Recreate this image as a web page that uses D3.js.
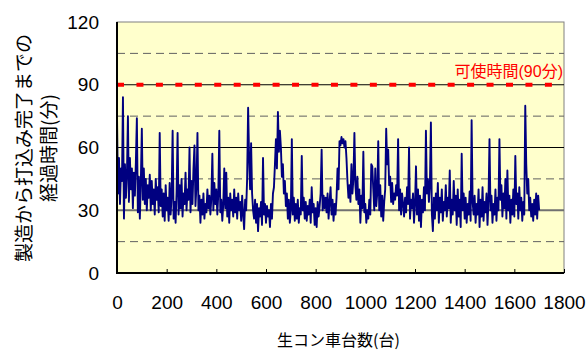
<!DOCTYPE html>
<html>
<head>
<meta charset="utf-8">
<script src="https://cdn.jsdelivr.net/npm/d3@7"></script>
<style>
	body { margin: 0; background: #fff; }
	text { font-family: 'Liberation Sans', Arial, 'Noto Sans CJK JP', sans-serif; }
</style>
</head>
<body>
<div id="chart"></div>
<script>

var step = 4;
var elapsed = [
	75,38,55,33,50,44,84,26,52,36, 47,75,34,55,40,50,31,48,37,53,
	74,29,46,26,44,69,35,50,33,45, 30,42,36,47,30,44,33,40,28,45,
	35,41,29,67,32,40,27,38,25,42, 30,36,25,43,28,37,68,26,34,24,
	39,67,28,42,31,45,27,38,33,48, 30,40,35,60,29,44,33,50,61,32,
	42,67,30,37,24,35,28,38,26,33, 29,40,31,37,28,36,57,30,43,33,
	40,28,38,68,29,35,25,33,50,31, 48,27,36,24,38,30,35,27,40,29,
	36,26,38,30,34,25,37,28,21,35, 30,45,79,55,40,62,38,30,26,35,
	24,33,20,31,27,34,23,55,28,33, 24,32,27,30,22,33,26,38,41,52,
	64,50,77,58,68,60,46,52,38,44, 32,38,26,35,24,30,64,28,36,25,
	33,26,35,24,31,28,56,30,36,26, 34,25,32,28,35,24,41,29,33,23,
	31,22,34,27,32,38,59,30,37,31, 36,29,38,26,34,41,28,35,25,33,
	28,36,50,40,63,61,65,62,64,60, 63,55,44,36,42,34,52,38,45,67,
	42,35,46,33,40,24,37,31,58,29, 33,24,30,26,35,28,52,51,40,30,
	50,32,38,63,30,42,27,37,25,34, 40,69,52,59,42,46,34,43,33,38,
	35,42,37,64,30,40,28,38,33,27, 36,29,41,33,60,26,35,31,38,24,
	33,51,28,40,25,37,22,35,29,41, 30,68,38,45,34,42,72,28,20,36,
	26,38,30,43,24,36,29,40,25,34, 30,42,27,36,31,49,24,35,28,44,
	30,37,23,40,27,35,22,57,30,38, 26,36,24,33,28,39,25,73,34,28,
	37,24,33,28,40,22,35,27,41,25, 34,29,38,23,35,64,30,37,24,33,
	28,40,25,36,30,64,35,42,27,38, 31,45,26,49,30,37,24,35,28,40,
	27,56,33,38,26,41,30,36,25,34, 28,80,52,38,45,30,36,27,33,25,
	35,28,38,26,37,30
];

var xTicks = [0, 200, 400, 600, 800, 1000, 1200, 1400, 1600, 1800];
var yTicks = [0, 30, 60, 90, 120];
var solidGrid = [30, 60, 90];
var dashedGrid = [15, 45, 75, 105];
var potLife = 90;
var potLifeLabel = '可使時間(90分)';
var xTitle = '生コン車台数(台)';
var yTitle = ['製造から打込み完了までの', '経過時間(分)'];

var width = 586, height = 350;
var margin = { left: 117, right: 22, top: 22, bottom: 77 };

var svg = d3.select('#chart').append('svg')
	.attr('width', width)
	.attr('height', height)

var x = d3.scaleLinear()
	.domain([0, 1800])
	.range([margin.left, width - margin.right])

var y = d3.scaleLinear()
	.domain([0, 120])
	.range([height - margin.bottom, margin.top])

// plot area
svg.append('rect')
	.attr('x', x(0))
	.attr('y', y(120))
	.attr('width', x(1800) - x(0))
	.attr('height', y(0) - y(120))
	.attr('fill', '#ffffcc')
	.attr('stroke', '#808080')
	.attr('stroke-width', 1)

svg.selectAll('.grid-dash')
	.data(dashedGrid)
	.enter().append('line')
	.attr('x1', x(0)).attr('x2', x(1800))
	.attr('y1', function (d) { return y(d) })
	.attr('y2', function (d) { return y(d) })
	.attr('stroke', '#606060')
	.attr('stroke-width', 1)
	.attr('stroke-dasharray', '8,5')

svg.selectAll('.grid-solid')
	.data(solidGrid)
	.enter().append('line')
	.attr('x1', x(0)).attr('x2', x(1800))
	.attr('y1', function (d) { return y(d) })
	.attr('y2', function (d) { return y(d) })
	.attr('stroke', function (d) { return d == 30 ? '#707070' : '#000' })
	.attr('stroke-width', function (d) { return d == 30 ? 2 : 1 })

// series
var line = d3.line()
	.x(function (d, i) { return x(i * step) })
	.y(function (d) { return y(d) })

svg.append('path')
	.datum(elapsed)
	.attr('d', line)
	.attr('fill', 'none')
	.attr('stroke', '#000080')
	.attr('stroke-width', 1.9)
	.attr('stroke-linejoin', 'round')

// pot life line
svg.append('line')
	.attr('x1', x(0)).attr('x2', x(1800))
	.attr('y1', y(potLife)).attr('y2', y(potLife))
	.attr('stroke', '#ff0000')
	.attr('stroke-width', 4)
	.attr('stroke-dasharray', '7,12.45')

svg.append('text')
	.attr('x', x(1800) - 1)
	.attr('y', y(potLife) - 8)
	.attr('text-anchor', 'end')
	.attr('fill', '#ff0000')
	.style('font-size', '16px')
	.text(potLifeLabel)

// axes
var xAxis = d3.axisBottom(x)
	.tickValues(xTicks)
	.tickFormat(d3.format('d'))
	.tickSizeInner(-4)
	.tickSizeOuter(0)
	.tickPadding(23)

var xAxisG = svg.append('g')
	.attr('transform', 'translate(0,' + y(0) + ')')
	.call(xAxis)
xAxisG.select('.domain').remove()
xAxisG.selectAll('text')
	.attr('fill', '#000')
	.style('font-size', '19px')
	.style('font-family', "'Liberation Sans', Arial, sans-serif")

var yAxis = d3.axisLeft(y)
	.tickValues(yTicks)
	.tickSize(0)
	.tickPadding(18)

var yAxisG = svg.append('g')
	.attr('transform', 'translate(' + x(0) + ',0)')
	.call(yAxis)
yAxisG.select('.domain').remove()
yAxisG.selectAll('text')
	.attr('fill', '#000')
	.style('font-size', '19px')
	.style('font-family', "'Liberation Sans', Arial, sans-serif")

// left and bottom axis lines
svg.append('line')
	.attr('x1', x(0)).attr('x2', x(0))
	.attr('y1', y(120)).attr('y2', y(0) + 1)
	.attr('stroke', '#000')
	.attr('stroke-width', 2)

svg.append('line')
	.attr('x1', x(0) - 1).attr('x2', x(1800))
	.attr('y1', y(0)).attr('y2', y(0))
	.attr('stroke', '#000')
	.attr('stroke-width', 2)

// titles
svg.append('text')
	.attr('x', (x(0) + x(1800)) / 2 - 2)
	.attr('y', 346)
	.attr('text-anchor', 'middle')
	.style('font-size', '16px')
	.style('font-family', "'Noto Sans CJK JP', sans-serif")
	.text(xTitle)

svg.selectAll('.ytitle')
	.data(yTitle)
	.enter().append('text')
	.attr('transform', function (d, i) {
		return 'translate(' + (31 + i * 25) + ',' + 148 + ') rotate(-90)'
	})
	.attr('text-anchor', 'middle')
	.style('font-size', '19px')
	.style('font-family', "'Noto Sans CJK JP', sans-serif")
	.text(function (d) { return d })

</script>
</body>
</html>
